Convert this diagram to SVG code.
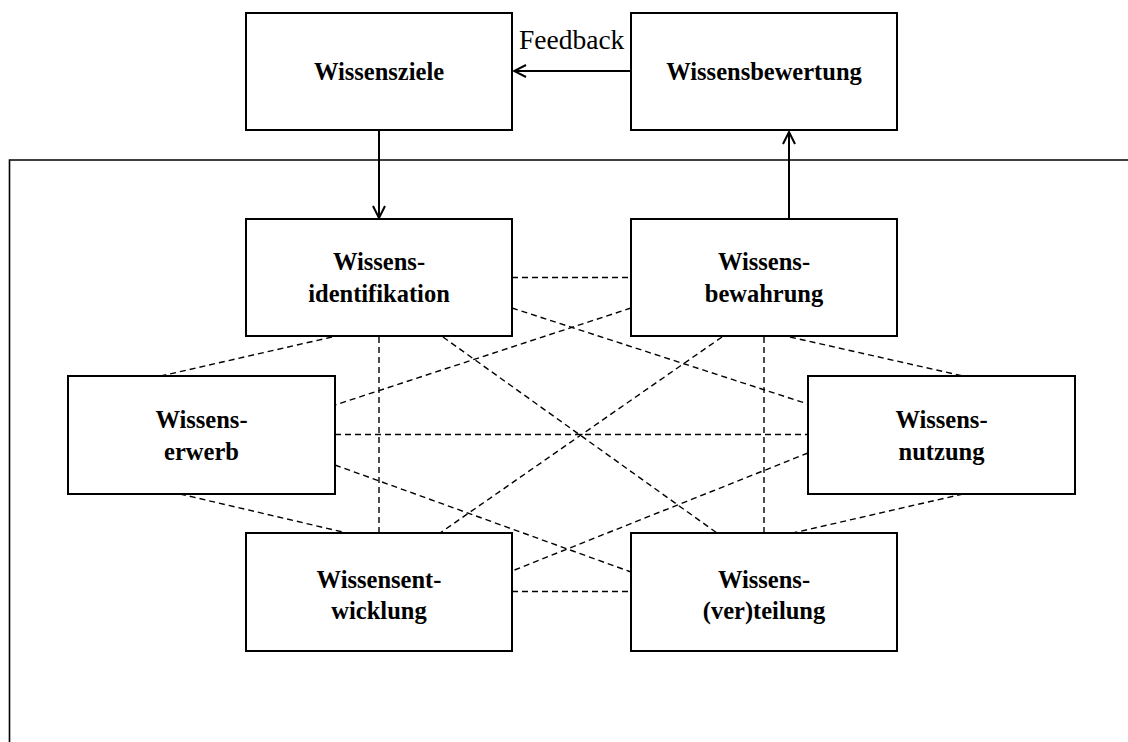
<svg xmlns="http://www.w3.org/2000/svg" width="1128" height="742" viewBox="0 0 1128 742">
<style>
.box{fill:#fff;stroke:#000;stroke-width:2}
.t{font-family:"Liberation Serif","Times New Roman",serif;font-weight:bold;font-size:24.5px;text-anchor:middle;fill:#000}
.fb{font-family:"Liberation Serif","Times New Roman",serif;font-size:27.5px;fill:#000}
.d{stroke:#000;stroke-width:1.4;stroke-dasharray:6 4;fill:none}
.s{stroke:#000;stroke-width:2;fill:none}
.frame{stroke:#000;stroke-width:1.6;fill:none}
</style>
<defs>
<marker id="ah" viewBox="0 0 14 14" refX="13" refY="7" markerWidth="14" markerHeight="14" markerUnits="userSpaceOnUse" orient="auto">
<path d="M1,1 L13,7 L1,13" fill="none" stroke="#000" stroke-width="2"/>
</marker>
</defs>
<rect width="1128" height="742" fill="#fff"/>
<path class="frame" d="M1128,160 H9.5 V742"/>
<g id="connectors">
<line class="d" x1="512" y1="277.5" x2="631" y2="277.5"/>
<line class="d" x1="512" y1="308" x2="808" y2="404"/>
<line class="d" x1="631" y1="308" x2="335" y2="405"/>
<line class="d" x1="332" y1="337" x2="161" y2="376"/>
<line class="d" x1="443" y1="337" x2="717" y2="533"/>
<line class="d" x1="379" y1="337" x2="379" y2="533"/>
<line class="d" x1="722" y1="337" x2="440" y2="533"/>
<line class="d" x1="764" y1="337" x2="764" y2="533"/>
<line class="d" x1="790" y1="337" x2="963" y2="376"/>
<line class="d" x1="335" y1="434.5" x2="808" y2="434.5"/>
<line class="d" x1="335" y1="465" x2="631" y2="572"/>
<line class="d" x1="180" y1="494" x2="347" y2="533"/>
<line class="d" x1="808" y1="453" x2="512" y2="571"/>
<line class="d" x1="963" y1="494" x2="793" y2="533"/>
<line class="d" x1="512" y1="591.5" x2="631" y2="591.5"/>
<line class="s" x1="631" y1="71" x2="514" y2="71" marker-end="url(#ah)"/>
<line class="s" x1="379" y1="130" x2="379" y2="218" marker-end="url(#ah)"/>
<line class="s" x1="789" y1="219" x2="789" y2="132" marker-end="url(#ah)"/>
<text class="fb" x="519" y="49">Feedback</text>
</g>
<g id="wissensziele">
<rect class="box" x="246" y="13" width="266" height="117"/>
<text class="t" x="379" y="80">Wissensziele</text>
</g>
<g id="wissensbewertung">
<rect class="box" x="631" y="13" width="266" height="117"/>
<text class="t" x="764" y="80">Wissensbewertung</text>
</g>
<g id="wissensidentifikation">
<rect class="box" x="246" y="219" width="266" height="117"/>
<text class="t" x="379" y="270">Wissens-</text>
<text class="t" x="379" y="302">identifikation</text>
</g>
<g id="wissensbewahrung">
<rect class="box" x="631" y="219" width="266" height="117"/>
<text class="t" x="764" y="270">Wissens-</text>
<text class="t" x="764" y="302">bewahrung</text>
</g>
<g id="wissenserwerb">
<rect class="box" x="68" y="376" width="267" height="118"/>
<text class="t" x="201.5" y="428">Wissens-</text>
<text class="t" x="201.5" y="460">erwerb</text>
</g>
<g id="wissensnutzung">
<rect class="box" x="808" y="376" width="267" height="118"/>
<text class="t" x="941.5" y="428">Wissens-</text>
<text class="t" x="941.5" y="460">nutzung</text>
</g>
<g id="wissensentwicklung">
<rect class="box" x="246" y="533" width="266" height="118"/>
<text class="t" x="379" y="588">Wissensent-</text>
<text class="t" x="379" y="619">wicklung</text>
</g>
<g id="wissensverteilung">
<rect class="box" x="631" y="533" width="266" height="118"/>
<text class="t" x="764" y="588">Wissens-</text>
<text class="t" x="764" y="619">(ver)teilung</text>
</g>
</svg>
